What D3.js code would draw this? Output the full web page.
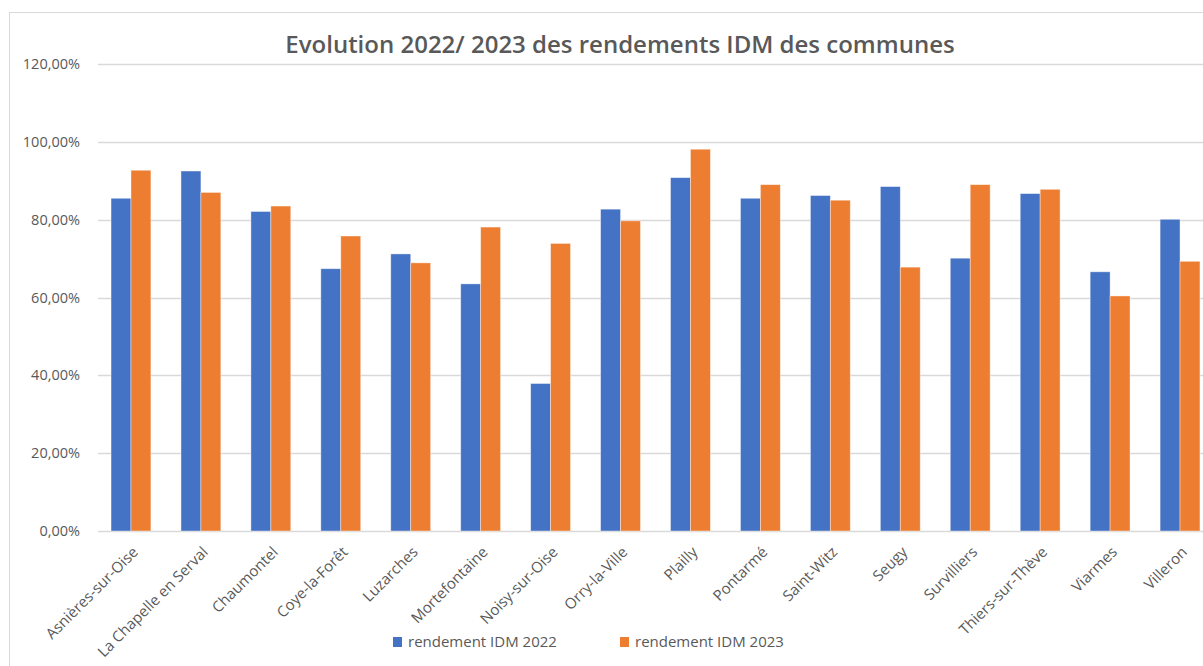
<!DOCTYPE html>
<html>
<head>
<meta charset="utf-8">
<script src="https://cdn.jsdelivr.net/npm/d3@7"></script>
<style>
  body { margin: 0; background: #fff; }
  svg { display: block; font-family: "Open Sans", "Noto Sans", sans-serif; }
</style>
</head>
<body>
<svg id="chart" width="1203" height="666"></svg>
<script>
// communes and IDM yields
var communes = ["Asnières-sur-Oise", "La Chapelle en Serval", "Chaumontel", "Coye-la-Forêt",
  "Luzarches", "Mortefontaine", "Noisy-sur-Oise", "Orry-la-Ville", "Plailly", "Pontarmé",
  "Saint-Witz", "Seugy", "Survilliers", "Thiers-sur-Thève", "Viarmes", "Villeron"];
var rendement2022 = [0.855, 0.925, 0.821, 0.674, 0.712, 0.635, 0.379, 0.827, 0.908, 0.855,
  0.862, 0.885, 0.701, 0.867, 0.666, 0.801];
var rendement2023 = [0.927, 0.870, 0.835, 0.758, 0.689, 0.781, 0.739, 0.797, 0.981, 0.890,
  0.850, 0.678, 0.890, 0.878, 0.604, 0.693];
var seriesNames = ["rendement IDM 2022", "rendement IDM 2023"];
var yTicks = [0, 0.2, 0.4, 0.6, 0.8, 1.0, 1.2];

var colors = ["#4472C4", "#ED7D31"];
var textColor = "#595959";
var fontFam = '"Open Sans", "Noto Sans", sans-serif';

var svg = d3.select("#chart");

// outer chart frame (cut off on the right like the screenshot)
svg.append("rect")
  .attr("x", 9.5).attr("y", 12.5)
  .attr("width", 1300).attr("height", 700)
  .attr("fill", "none").attr("stroke", "#D9D9D9");

var x0 = 96, x1 = 1215, yTop = 64, yBottom = 531;

var x = d3.scaleBand().domain(communes).range([x0, x1]).paddingInner(0.43).paddingOuter(0.215);
var xSub = d3.scaleBand().domain([0, 1]).range([0, x.bandwidth()]);
var y = d3.scaleLinear().domain([0, 1.2]).range([yBottom, yTop]);

// gridlines
svg.append("g")
  .selectAll("line")
  .data(yTicks)
  .enter()
  .append("line")
  .attr("x1", 98).attr("x2", 1203)
  .attr("y1", function(d) { return Math.round(y(d)) + 0.5; })
  .attr("y2", function(d) { return Math.round(y(d)) + 0.5; })
  .attr("stroke", "#D9D9D9").attr("stroke-width", 1.3);

// y axis labels
var fmt = function(d) { return d3.format(".2f")(d * 100).replace(".", ",") + "%"; };
var yAxis = d3.axisLeft(y).tickValues(yTicks).tickFormat(fmt).tickSize(0).tickPadding(18);
var yg = svg.append("g").attr("transform", "translate(98,0)").call(yAxis)
  .attr("font-family", fontFam);
yg.select(".domain").remove();
yg.selectAll("text").attr("fill", textColor).style("font-size", "14.5px");

// bars
var groups = svg.append("g")
  .selectAll("g")
  .data(communes)
  .enter()
  .append("g")
  .attr("transform", function(d) { return "translate(" + x(d) + ",0)"; });

groups.selectAll("rect")
  .data(function(d, i) { return [rendement2022[i], rendement2023[i]]; })
  .enter()
  .append("rect")
  .attr("x", function(d, j) { return xSub(j); })
  .attr("width", xSub.bandwidth())
  .attr("y", function(d) { return y(d); })
  .attr("height", function(d) { return y(0) - y(d); })
  .attr("fill", function(d, j) { return colors[j]; })
  .attr("stroke", "#fff").attr("stroke-opacity", 0.5).attr("stroke-width", 0.8);

// x axis labels, rotated
var xAxis = d3.axisBottom(x).tickSize(0).tickPadding(0);
var xg = svg.append("g").attr("transform", "translate(0," + yBottom + ")").call(xAxis)
  .attr("font-family", fontFam);
xg.select(".domain").remove();
xg.selectAll("text")
  .attr("fill", textColor)
  .style("font-size", "15px")
  .attr("text-anchor", "end")
  .attr("dy", 0)
  .attr("transform", "translate(8,22) rotate(-45)");

// title
svg.append("text")
  .attr("x", 620).attr("y", 53)
  .attr("text-anchor", "middle")
  .attr("fill", textColor)
  .style("font-size", "24px").style("font-weight", 600)
  .text("Evolution 2022/ 2023 des rendements IDM des communes");

// legend
var legendX = [393, 620];
var legend = svg.append("g")
  .selectAll("g")
  .data(seriesNames)
  .enter()
  .append("g")
  .attr("transform", function(d, i) { return "translate(" + legendX[i] + ",637)"; });
legend.append("rect")
  .attr("width", 9).attr("height", 10)
  .attr("fill", function(d, i) { return colors[i]; });
legend.append("text")
  .attr("x", 15).attr("y", 10)
  .attr("fill", textColor)
  .style("font-size", "15px")
  .text(function(d) { return d; });
</script>
</body>
</html>
